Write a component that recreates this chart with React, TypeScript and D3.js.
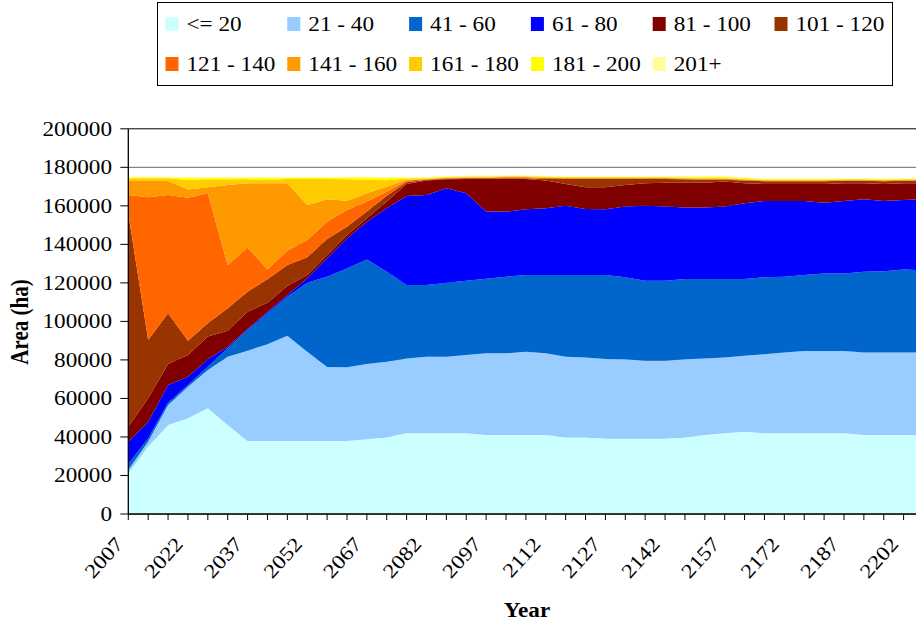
import React from "react";
import * as d3 from "d3";

const years = [2007, 2012, 2017, 2022, 2027, 2032, 2037, 2042, 2047, 2052, 2057, 2062, 2067, 2072, 2077, 2082, 2087, 2092, 2097, 2102, 2107, 2112, 2117, 2122, 2127, 2132, 2137, 2142, 2147, 2152, 2157, 2162, 2167, 2172, 2177, 2182, 2187, 2192, 2197, 2202, 2207];
const xTickLabels = [2007, 2022, 2037, 2052, 2067, 2082, 2097, 2112, 2127, 2142, 2157, 2172, 2187, 2202];
const yTickValues = [0, 20000, 40000, 60000, 80000, 100000, 120000, 140000, 160000, 180000, 200000];

const seriesNames = ["<= 20", "21 - 40", "41 - 60", "61 - 80", "81 - 100", "101 - 120", "121 - 140", "141 - 160", "161 - 180", "181 - 200", "201+"];
const seriesColors = ["#CCFFFF", "#99CCFF", "#0066CC", "#0000FF", "#800000", "#993300", "#FF6600", "#FF9900", "#FFCC00", "#FFFF00", "#FFFF99"];

const s_le20 = [21100, 35000, 46200, 49700, 54900, 46200, 37900, 37900, 37900, 37900, 37900, 37900, 38800, 39800, 41900, 41900, 41900, 41900, 41000, 41000, 41000, 41000, 39800, 39800, 39100, 39100, 39100, 39100, 39800, 41000, 41900, 42750, 41900, 41900, 41900, 41900, 41900, 41000, 41000, 41000, 41000];
const s_21_40 = [1700, 2700, 10400, 16400, 19900, 35500, 46900, 50200, 54700, 46400, 38400, 38300, 39100, 39300, 38900, 39800, 39800, 40650, 42400, 42400, 43300, 42400, 41900, 41400, 41400, 41200, 40500, 40500, 40500, 39800, 39400, 39450, 41000, 41900, 42700, 42700, 42700, 42800, 42800, 42800, 42800];
const s_41_60 = [3200, 1600, 1200, 900, 1700, 4300, 10700, 16100, 20200, 35800, 46900, 51300, 54300, 46700, 38100, 37200, 38400, 38550, 38800, 39800, 39800, 40700, 42400, 42900, 43600, 42600, 41500, 41500, 41700, 41200, 40700, 39800, 40000, 39400, 39500, 40300, 40300, 42000, 42300, 43200, 42700];
const s_61_80 = [11500, 8600, 9200, 4300, 3800, 900, 500, 800, 900, 2300, 9550, 15600, 19600, 32900, 46200, 46700, 49000, 45400, 34800, 33800, 34100, 34600, 36000, 34300, 34100, 36700, 39000, 38500, 37200, 37200, 37600, 39300, 39600, 39300, 38400, 36700, 37600, 37600, 36400, 36000, 36900];
const s_81_100 = [7800, 12200, 10900, 11300, 11800, 8300, 9000, 4700, 4700, 1700, 1750, 1800, 1700, 3500, 6200, 7500, 4700, 7500, 17000, 17000, 15800, 14400, 11200, 11200, 11400, 11200, 11600, 12400, 12800, 12800, 13000, 10400, 8800, 8800, 8800, 9700, 9200, 8300, 8800, 8700, 8300];
const s_101_120 = [110800, 30200, 26300, 7400, 6900, 11600, 10400, 12200, 10900, 9200, 8300, 4300, 3500, 3100, 900, 400, 300, 300, 300, 300, 300, 900, 2700, 4400, 4400, 3200, 2300, 2000, 1800, 1600, 1000, 1500, 1500, 1500, 1500, 1500, 1300, 1300, 1500, 1300, 1300];
const s_121_140 = [9500, 74100, 61400, 74200, 67500, 22500, 23000, 5100, 7400, 9000, 9000, 8600, 5200, 2000, 900, 300, 300, 300, 300, 500, 500, 500, 300, 300, 300, 300, 300, 300, 300, 300, 300, 300, 300, 300, 300, 300, 300, 300, 300, 300, 300];
const s_141_160 = [7300, 8500, 7300, 4300, 3100, 41500, 33300, 44700, 35000, 18100, 11600, 4900, 4300, 2600, 500, 200, 200, 200, 200, 200, 200, 200, 200, 200, 200, 200, 200, 200, 200, 200, 200, 200, 200, 200, 200, 200, 200, 200, 200, 200, 200];
const s_161_180 = [1400, 1400, 1400, 4900, 4200, 3000, 2100, 1700, 2300, 13600, 10600, 11100, 7000, 3400, 600, 300, 300, 300, 300, 300, 300, 300, 300, 300, 300, 300, 300, 300, 300, 300, 300, 300, 300, 300, 300, 300, 300, 300, 300, 300, 300];
const s_181_200 = [500, 500, 500, 1200, 900, 900, 900, 1200, 700, 700, 700, 1000, 1300, 1300, 500, 400, 300, 300, 300, 300, 300, 300, 300, 300, 300, 300, 300, 300, 600, 600, 600, 600, 300, 300, 300, 300, 300, 300, 300, 300, 300];
const s_201 = [300, 300, 300, 300, 300, 300, 300, 300, 300, 300, 300, 300, 300, 300, 300, 300, 300, 300, 300, 300, 300, 300, 300, 300, 300, 300, 300, 300, 300, 300, 300, 300, 300, 300, 300, 300, 300, 300, 300, 300, 300];

const seriesValues = [s_le20, s_21_40, s_41_60, s_61_80, s_81_100, s_101_120, s_121_140, s_141_160, s_161_180, s_181_200, s_201];

const W = 916;
const H = 624;
const FONT = "Liberation Serif";
const SX = 1.16;

export default function App() {
  const table = years.map((yr, i) => {
    const row: any = { year: yr };
    seriesNames.forEach((n, k) => (row[n] = seriesValues[k][i]));
    return row;
  });
  const stacked = d3.stack().keys(seriesNames)(table as any);

  const x = d3.scalePoint<number>().domain(years).range([128.3, 923.5]);
  const y = d3.scaleLinear().domain([0, 200000]).range([514, 128.8]);

  const area = d3
    .area<any>()
    .x((d) => x(d.data.year) as number)
    .y0((d) => y(d[0]))
    .y1((d) => y(d[1]));

  const x0 = x(years[0]) as number;
  const tStyle = { fontFamily: FONT };

  return (
    <div style={{ position: "absolute", left: 0, top: 0 }}>
      <svg width={W} height={H} style={{ display: "block", background: "#fff" }}>
        {yTickValues.map((v) => (
          <line key={"g" + v} x1={x0} x2={W + 20} y1={y(v)} y2={y(v)} stroke={v === 200000 ? "#000" : "#6a6a6a"} strokeWidth={1} />
        ))}
        {stacked.map((s, k) => (
          <path key={seriesNames[k]} d={area(s as any) as string} fill={seriesColors[k]} stroke="none" />
        ))}
        <line x1={x0} x2={x0} y1={y(200000)} y2={y(0)} stroke="#000" strokeWidth={1.3} />
        <line x1={x0} x2={W + 20} y1={y(0)} y2={y(0)} stroke="#000" strokeWidth={1.3} />
        {yTickValues.map((v) => (
          <g key={"yt" + v}>
            <line x1={x0 - 8} x2={x0} y1={y(v)} y2={y(v)} stroke="#000" />
            <text
              style={tStyle}
              transform={`translate(112,${y(v)}) scale(${SX},1)`}
              dy="0.35em"
              textAnchor="end"
              fontSize={20}
              fill="#000"
            >
              {v}
            </text>
          </g>
        ))}
        {years.map((yr) => (
          <line key={"xt" + yr} x1={x(yr)} x2={x(yr)} y1={y(0)} y2={y(0) + 6} stroke="#000" />
        ))}
        {xTickLabels.map((yr) => (
          <text
            key={"xl" + yr}
            style={tStyle}
            transform={`translate(${(x(yr) as number) - 4},545) rotate(-48) scale(${SX},1)`}
            textAnchor="end"
            fontSize={20}
            fill="#000"
          >
            {yr}
          </text>
        ))}
        <text style={tStyle} transform={`translate(527,617) scale(${SX},1)`} textAnchor="middle" fontSize={20} fontWeight="bold">
          Year
        </text>
        <text style={tStyle} transform={`translate(28,322) rotate(-90) scale(1,${SX})`} textAnchor="middle" fontSize={21} fontWeight="bold">
          Area (ha)
        </text>
        <rect x={157.5} y={2.5} width={735} height={83} fill="#fff" stroke="#000" strokeWidth={1} />
        {seriesNames.map((n, k) => {
          const col = k < 6 ? k : k - 6;
          const row = k < 6 ? 0 : 1;
          const lx = 165.5 + col * 121.8;
          const ly = row === 0 ? 24 : 64;
          return (
            <g key={"lg" + n}>
              <rect x={lx} y={ly - 7} width={13} height={14} fill={seriesColors[k]} />
              <text style={tStyle} transform={`translate(${lx + 21},${ly + 7}) scale(${SX},1)`} fontSize={20} fill="#000">
                {n}
              </text>
            </g>
          );
        })}
      </svg>
    </div>
  );
}
